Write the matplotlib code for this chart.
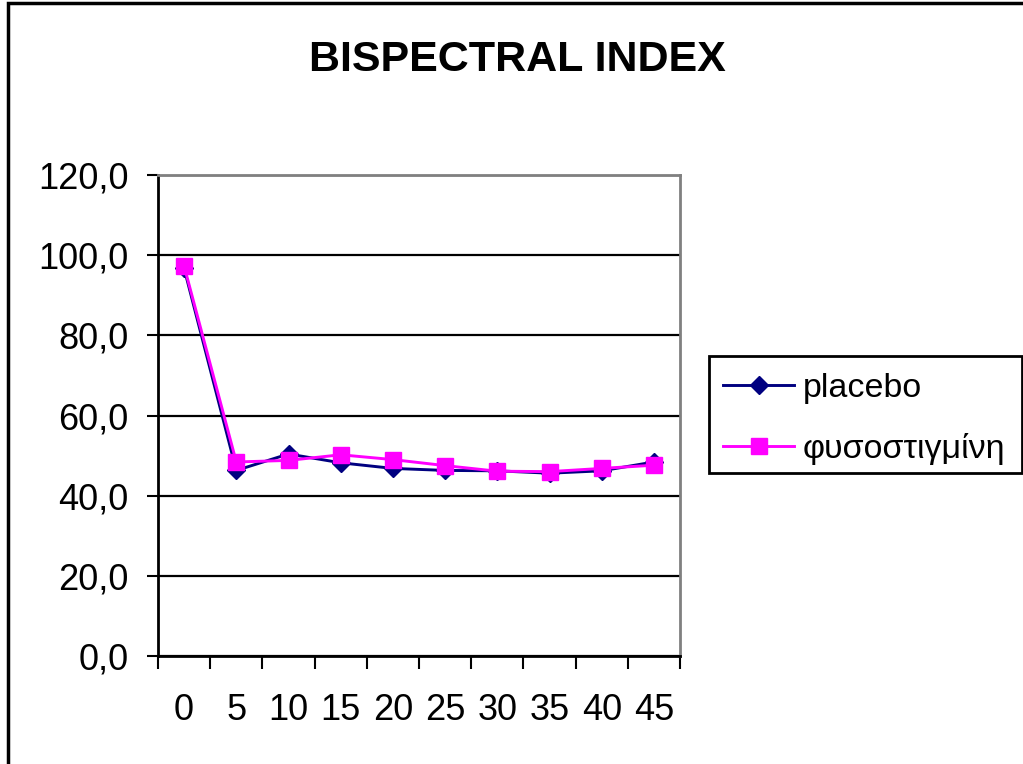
import matplotlib
matplotlib.use('Agg')
from matplotlib import pyplot as plt
from matplotlib.patches import Rectangle
from matplotlib.ticker import FuncFormatter

plt.rcParams['font.family'] = ['Liberation Sans', 'DejaVu Sans']

# minutes after induction and mean BIS for each group
minutes = ['0', '5', '10', '15', '20', '25', '30', '35', '40', '45']
placebo = [96.7, 46.3, 50.4, 48.2, 46.8, 46.3, 46.2, 45.6, 46.2, 48.4]
physostigmine = [97.3, 48.4, 48.8, 50.2, 49.0, 47.5, 46.1, 46.0, 46.8, 47.6]

W, H = 1023, 764
fig = plt.figure(figsize=(W/100, H/100), dpi=100)
ax = fig.add_axes([158/W, 1-656/H, 522/W, 481/H])

x = list(range(len(minutes)))
ax.plot(x, placebo, color='#000080', lw=2.1, marker='D', ms=9,
        label='placebo', zorder=3)
ax.plot(x, physostigmine, color='#FF00FF', lw=2.1, marker='s', ms=12,
        label='φυσοστιγμίνη', zorder=4)

ax.set_xlim(-0.5, len(minutes) - 0.5)
ax.set_ylim(0, 120)

# y axis: gridlines every 20 with comma decimals
ax.set_yticks(range(0, 121, 20))
ax.yaxis.set_major_formatter(FuncFormatter(lambda v, p: ('%.1f' % v).replace('.', ',')))
ax.yaxis.grid(True, color='black', lw=1.6)
ax.set_axisbelow(True)
ax.tick_params(axis='y', direction='out', length=8, width=1.5, pad=13, labelsize=26)

# x axis: ticks between categories, labels at the centres
ax.set_xticks([i - 0.5 for i in range(len(minutes) + 1)])
ax.set_xticklabels([])
ax.set_xticks(x, minor=True)
ax.set_xticklabels(minutes, minor=True)
ax.tick_params(axis='x', which='major', direction='out', length=9, width=1.5)
ax.tick_params(axis='x', which='minor', length=0, pad=27, labelsize=26)

for side in ['left', 'bottom']:
    ax.spines[side].set_color('black')
    ax.spines[side].set_linewidth(2)
for side in ['top', 'right']:
    ax.spines[side].set_color('#808080')
    ax.spines[side].set_linewidth(2)

fig.text(517/W, 1-60/H, 'BISPECTRAL INDEX', ha='center', va='center',
         fontsize=31, fontweight='bold')

# legend entries, with its box drawn separately
leg = fig.legend(loc='upper left', bbox_to_anchor=(723/W, 1-373/H),
                 borderaxespad=0, borderpad=0, fontsize=24.5, frameon=False,
                 handlelength=2.1, handletextpad=0.25, labelspacing=0.85)
fig.patches.append(Rectangle((709/W, 1-473/H), 313/W, 117/H,
                             transform=fig.transFigure, fill=False,
                             edgecolor='black', lw=2))

# chart border
fig.patches.append(Rectangle((8/W, -0.1), 1.2, 1.1 - 3/H,
                             transform=fig.transFigure, fill=False,
                             edgecolor='black', lw=2.5))

fig.savefig('out.png', dpi=100)
